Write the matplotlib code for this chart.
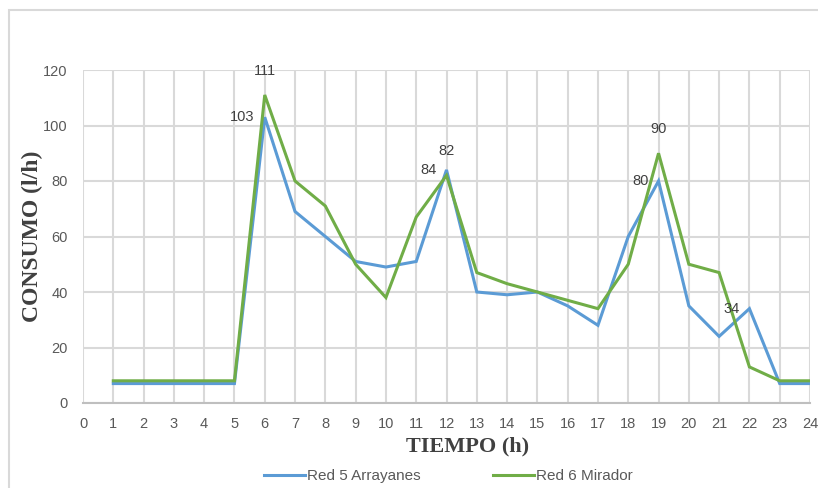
import matplotlib.pyplot as plt
from matplotlib.patches import Rectangle

# hourly consumption (l/h)
hours = list(range(1, 25))
red5_arrayanes = [7, 7, 7, 7, 7, 103, 69, 60, 51, 49, 51, 84, 40, 39, 40, 35, 28, 60, 80, 35, 24, 34, 7, 7]
red6_mirador = [8, 8, 8, 8, 8, 111, 80, 71, 50, 38, 67, 82, 47, 43, 40, 37, 34, 50, 90, 50, 47, 13, 8, 8]

# labelled points: (hour, series)
blue_labels = [6, 12, 19, 22]
green_labels = [6, 12, 19]

blue = "#5B9BD5"
green = "#70AD47"
grid_c = "#D9D9D9"
txt_c = "#595959"

plt.rcParams['font.family'] = ['Liberation Sans', 'DejaVu Sans']

fig = plt.figure(figsize=(8.18, 4.88), dpi=100)
ax = fig.add_axes([83/818, 1 - 403/488, (810 - 83)/818, (403 - 70)/488])

# outer chart frame (cut by image edge)
fig.patches.append(Rectangle((9/818, -0.1), 1.2, 1 - 10/488 + 0.1, transform=fig.transFigure,
                             fill=False, edgecolor=grid_c, lw=1.5))

ax.plot(hours, red5_arrayanes, color=blue, lw=2.2, label="Red 5 Arrayanes", solid_joinstyle='miter')
ax.plot(hours, red6_mirador, color=green, lw=2.2, label="Red 6 Mirador", solid_joinstyle='miter')

for h in blue_labels:
    v = red5_arrayanes[h - 1]
    ax.annotate(str(v), (h, v), xytext=(-10, 0), textcoords='offset pixels',
                ha='right', va='center', fontsize=10.5, color="#404040")
for h in green_labels:
    v = red6_mirador[h - 1]
    ax.annotate(str(v), (h, v), xytext=(0, 24), textcoords='offset pixels',
                ha='center', va='center', fontsize=10.5, color="#404040")

ax.set_xlim(0, 24)
ax.set_ylim(0, 120)
ax.set_xticks(range(0, 25))
ax.set_yticks(range(0, 121, 20))
ax.grid(True, color=grid_c, lw=1.5)
ax.set_axisbelow(True)
for s in ['top', 'right', 'left']:
    ax.spines[s].set_visible(False)
ax.spines['bottom'].set_color("#BFBFBF")
ax.spines['bottom'].set_linewidth(1.5)
ax.tick_params(length=0, labelsize=10.5, labelcolor=txt_c)
ax.tick_params(axis='x', pad=10)
ax.tick_params(axis='y', pad=11)

ax.set_xlabel("TIEMPO (h)", family='Liberation Serif', fontweight='bold', fontsize=16,
              color="#404040")
ax.xaxis.set_label_coords((468 - 83) / 727, -(436 - 403) / 333)
ax.set_ylabel("CONSUMO (l/h)", family='Liberation Serif', fontweight='bold', fontsize=17,
              color="#404040")
ax.yaxis.set_label_coords(-(83 - 43) / 727, 0.5)

fig.legend(loc='center', bbox_to_anchor=(0.548, 0.024), ncol=2, frameon=False,
           fontsize=11, handlelength=2.7, columnspacing=4.7, handletextpad=0.15,
           labelcolor=txt_c)

fig.savefig("out.png", dpi=100)
